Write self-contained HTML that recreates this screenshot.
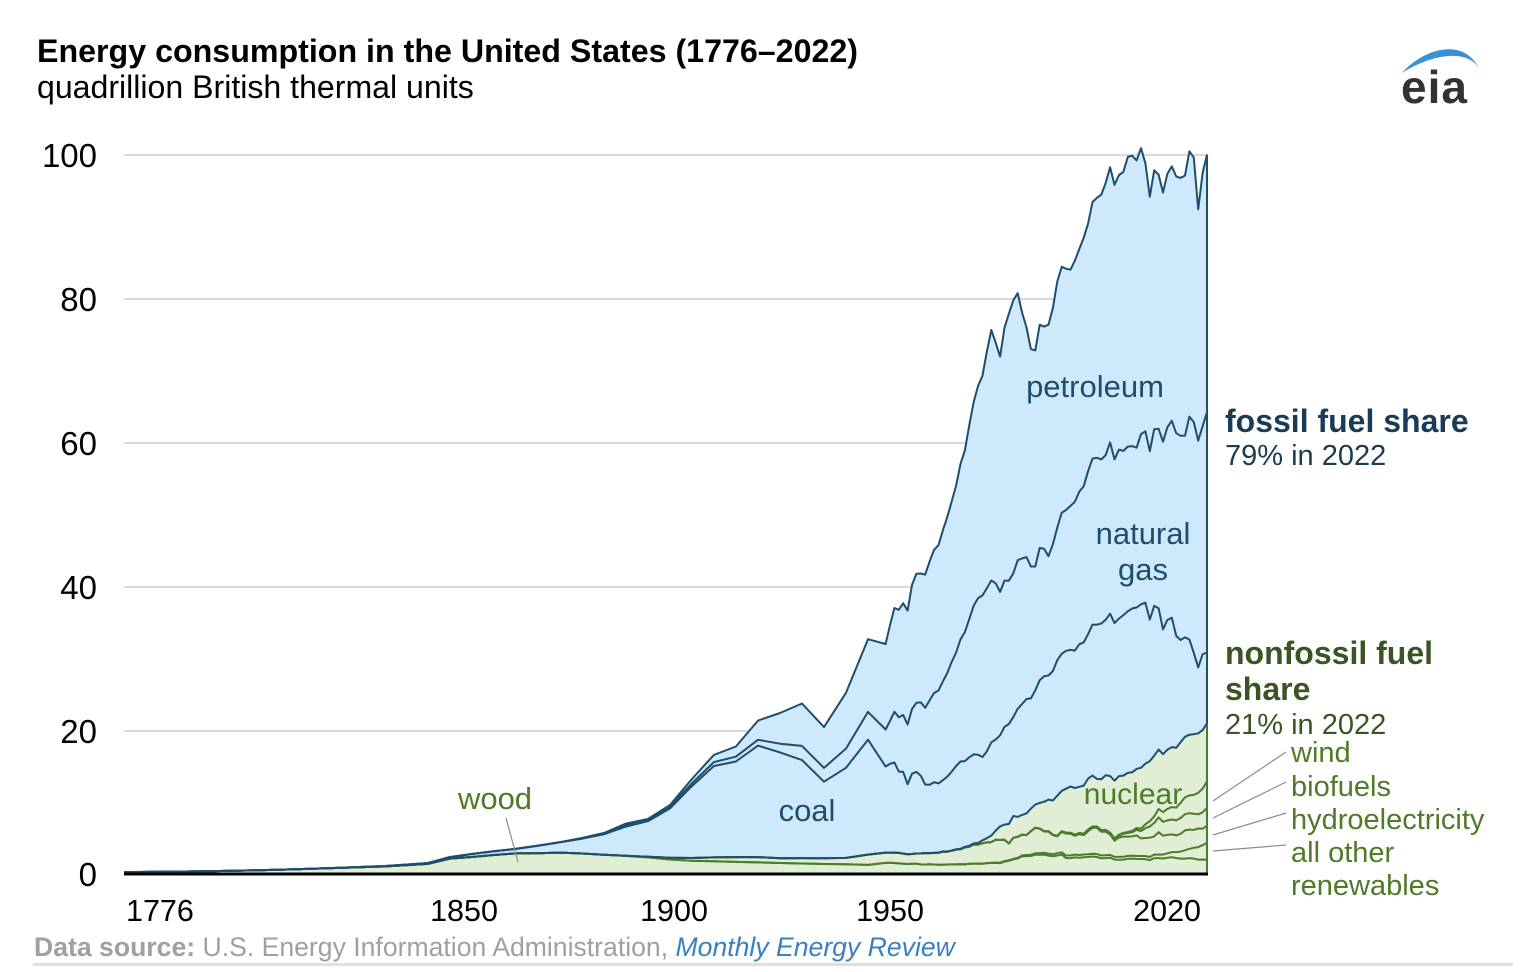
<!DOCTYPE html>
<html><head><meta charset="utf-8">
<style>
html,body{margin:0;padding:0;background:#fff;}
svg{display:block;font-family:"Liberation Sans",Arial,sans-serif;}
</style></head>
<body>
<svg id="chart" width="1536" height="972" viewBox="0 0 1536 972" xmlns="http://www.w3.org/2000/svg">
<rect width="1536" height="972" fill="#fff"/>
<!-- gridlines -->
<g stroke="#d9d9d9" stroke-width="2">
<line x1="124" y1="155" x2="1207" y2="155"/>
<line x1="124" y1="299" x2="1207" y2="299"/>
<line x1="124" y1="443" x2="1207" y2="443"/>
<line x1="124" y1="587" x2="1207" y2="587"/>
<line x1="124" y1="731" x2="1207" y2="731"/>
</g>
<path id="blueFill" fill="#cde9fb" stroke="none"/>
<path id="greenFill" fill="#e0eed5" stroke="none"/>
<g fill="none" stroke="#4e7a2b" stroke-width="2" stroke-linejoin="round">
<path id="g1"/><path id="g2"/><path id="g3"/><path id="g4"/><path id="g5"/>
<path id="gEdge"/>
</g>
<g fill="none" stroke="#1f4d6d" stroke-width="2" stroke-linejoin="round">
<path id="n6"/><path id="n7"/><path id="n8"/><path id="n9"/>
<path id="nEdge"/>
</g>
<line x1="124" y1="874" x2="1208" y2="874" stroke="#000" stroke-width="3"/>

<!-- title -->
<text x="37" y="62" font-size="32.2" font-weight="bold" fill="#000">Energy consumption in the United States (1776–2022)</text>
<text x="37" y="98" font-size="32.1" fill="#000">quadrillion British thermal units</text>

<!-- eia logo -->
<path d="M1402,73 C1422,50 1462,36 1479,68 C1466,48 1430,55 1402,73 Z" fill="#3a8fd6"/>
<text x="1401" y="103" font-size="46" font-weight="bold" fill="#333" letter-spacing="1">eia</text>

<!-- y labels -->
<g font-size="33" fill="#000" text-anchor="end">
<text x="97" y="167">100</text>
<text x="97" y="311">80</text>
<text x="97" y="455">60</text>
<text x="97" y="599">40</text>
<text x="97" y="743">20</text>
<text x="97" y="886">0</text>
</g>
<!-- x labels -->
<g font-size="30.5" fill="#000">
<text x="126" y="921">1776</text>
<text x="464" y="921" text-anchor="middle">1850</text>
<text x="674" y="921" text-anchor="middle">1900</text>
<text x="890" y="921" text-anchor="middle">1950</text>
<text x="1201" y="921" text-anchor="end">2020</text>
</g>

<!-- series labels -->
<g font-size="31" fill="#1f4d6d">
<text x="1095" y="397" text-anchor="middle">petroleum</text>
<text x="1143" y="544" text-anchor="middle">natural</text>
<text x="1143" y="580" text-anchor="middle">gas</text>
<text x="807" y="821" text-anchor="middle">coal</text>
</g>
<g fill="#4f7a28">
<text x="495" y="809" text-anchor="middle" font-size="31">wood</text>
<text x="1133" y="804" text-anchor="middle" font-size="30">nuclear</text>
</g>
<line x1="506" y1="818" x2="518" y2="862" stroke="#8c8c8c" stroke-width="1.2"/>

<!-- right annotations -->
<text x="1225" y="432" font-size="32" font-weight="bold" fill="#1b3a55">fossil fuel share</text>
<text x="1225" y="465" font-size="29" fill="#1b3a55">79% in 2022</text>
<text x="1225" y="664" font-size="32" font-weight="bold" fill="#3a5423">nonfossil fuel</text>
<text x="1225" y="700" font-size="32" font-weight="bold" fill="#3a5423">share</text>
<text x="1225" y="734" font-size="29" fill="#3a5423">21% in 2022</text>
<g font-size="29" fill="#4f7a28">
<text x="1291" y="762">wind</text>
<text x="1291" y="796">biofuels</text>
<text x="1291" y="829">hydroelectricity</text>
<text x="1291" y="862">all other</text>
<text x="1291" y="895">renewables</text>
</g>
<g stroke="#8c8c8c" stroke-width="1.2">
<line x1="1213" y1="801" x2="1286" y2="752"/>
<line x1="1213" y1="818" x2="1286" y2="782"/>
<line x1="1213" y1="835" x2="1286" y2="813"/>
<line x1="1213" y1="851" x2="1286" y2="845"/>
</g>

<!-- footer -->
<text x="34" y="956" font-size="26.6" fill="#a0a0a0"><tspan font-weight="bold">Data source:</tspan> U.S. Energy Information Administration, <tspan font-style="italic" fill="#3b7fc0">Monthly Energy Review</tspan></text>
<rect x="33" y="963" width="1480" height="3" fill="#e0e0e0"/>
</svg>
<script>
const R=[
[1776,.25,0,0,0,0,0,0,0,0],
[1785,.30,0,0,0,0,0,0,0,0],
[1795,.38,0,0,0,0,0,0,0,0],
[1805,.50,0,0,0,0,0,0,0,0],
[1815,.65,0,0,0,0,0,.01,0,0],
[1825,.85,0,0,0,0,0,.01,0,0],
[1835,1.05,0,0,0,0,0,.05,0,0],
[1845,1.40,0,0,0,0,0,.12,0,0],
[1850,2.138,0,0,0,0,0,.219,0,0],
[1855,2.358,0,0,0,0,0,.421,0,0],
[1860,2.641,0,0,0,0,0,.518,0,.003],
[1865,2.863,0,0,0,0,0,.632,0,.006],
[1870,2.893,0,0,0,0,0,1.048,0,.011],
[1875,2.975,0,0,0,0,0,1.440,0,.011],
[1880,2.851,0,0,0,0,0,2.054,0,.096],
[1885,2.683,0,0,0,0,0,2.840,.143,.040],
[1890,2.515,0,.022,0,0,0,4.062,.257,.156],
[1895,2.306,0,.085,0,0,0,4.950,.147,.168],
[1900,2.015,0,.250,0,0,0,6.841,.252,.229],
[1905,1.843,0,.386,0,0,0,10.001,.372,.610],
[1910,1.765,0,.539,0,0,0,12.714,.540,1.007],
[1915,1.688,0,.659,0,0,0,13.294,.673,1.418],
[1920,1.610,0,.738,0,0,0,15.504,.813,2.676],
[1925,1.533,0,.668,0,0,0,14.706,1.212,4.280],
[1930,1.455,0,.752,0,0,0,13.639,1.969,5.897],
[1935,1.397,0,.805,0,0,0,10.634,1.919,5.675],
[1940,1.358,0,.880,0,0,0,12.535,2.665,7.760],
[1945,1.261,0,1.442,0,0,0,15.972,3.871,10.110],
[1949,1.549,0,1.425,0,0,0,11.981,5.145,11.883],
[1950,1.562,0,1.415,0,0,0,12.347,5.968,13.315],
[1951,1.535,0,1.424,0,0,0,12.553,7.049,14.428],
[1952,1.474,0,1.466,0,0,0,11.306,7.550,14.956],
[1953,1.419,0,1.413,0,0,0,11.373,7.907,15.556],
[1954,1.394,0,1.360,0,0,0,9.715,8.330,15.839],
[1955,1.424,0,1.360,0,0,0,11.167,8.998,17.255],
[1956,1.416,0,1.435,0,0,0,11.350,9.614,17.937],
[1957,1.334,0,1.516,0,0,0,10.821,10.191,17.932],
[1958,1.323,0,1.592,0,0,.002,9.533,10.663,18.527],
[1959,1.353,0,1.548,0,0,.002,9.518,11.717,19.323],
[1960,1.320,.001,1.608,0,0,.006,9.838,12.385,19.919],
[1961,1.295,.002,1.656,0,0,.02,9.623,12.926,20.216],
[1962,1.300,.002,1.816,0,0,.026,9.906,13.731,21.049],
[1963,1.323,.004,1.771,0,0,.038,10.413,14.403,21.701],
[1964,1.337,.005,1.886,0,0,.04,10.964,15.288,22.301],
[1965,1.335,.004,2.059,0,0,.043,11.581,15.769,23.246],
[1966,1.369,.004,2.062,0,0,.064,12.143,16.995,24.401],
[1967,1.340,.007,2.347,0,0,.088,11.914,17.945,25.284],
[1968,1.419,.009,2.349,0,0,.142,12.331,19.210,26.979],
[1969,1.440,.013,2.648,0,0,.154,12.382,20.678,28.338],
[1970,1.429,.011,2.634,0,0,.239,12.265,21.795,29.521],
[1971,1.432,.012,2.824,0,0,.413,11.598,22.469,30.561],
[1972,1.503,.031,2.864,0,0,.584,12.077,22.698,32.947],
[1973,1.527,.043,2.861,0,0,.910,12.971,22.512,34.840],
[1974,1.538,.053,3.177,0,0,1.272,12.663,21.732,33.455],
[1975,1.497,.070,3.155,0,0,1.900,12.663,19.948,32.731],
[1976,1.711,.078,2.976,0,0,2.111,13.584,20.345,35.175],
[1977,1.837,.077,2.333,0,0,2.702,13.922,19.931,37.122],
[1978,2.036,.064,2.937,0,0,3.024,13.766,20.000,37.965],
[1979,2.152,.084,2.931,0,0,2.776,15.040,20.666,37.123],
[1980,2.476,.110,2.900,0,0,2.739,15.423,20.235,34.202],
[1981,2.496,.15,2.758,.013,0,3.008,15.908,19.747,31.931],
[1982,2.510,.17,3.266,.019,0,3.131,15.322,18.356,30.232],
[1983,2.684,.2,3.527,.035,0,3.203,15.894,17.221,30.054],
[1984,2.686,.22,3.386,.043,0,3.553,17.071,18.394,31.051],
[1985,2.687,.25,2.970,.052,0,4.076,17.478,17.703,30.922],
[1986,2.562,.27,3.071,.064,0,4.380,17.260,16.591,32.196],
[1987,2.463,.3,2.635,.071,0,4.754,18.008,17.640,32.865],
[1988,2.577,.32,2.334,.076,0,5.587,18.846,18.448,34.222],
[1989,2.680,.34,2.837,.082,.02,5.602,19.070,19.602,34.211],
[1990,2.216,.36,3.046,.11,.029,6.104,19.173,19.603,33.552],
[1991,2.214,.37,3.016,.12,.031,6.422,18.992,20.033,32.846],
[1992,2.313,.38,2.617,.13,.03,6.479,19.122,20.713,33.525],
[1993,2.260,.38,2.892,.15,.031,6.410,19.835,21.229,33.744],
[1994,2.324,.39,2.683,.17,.036,6.694,19.909,21.728,34.561],
[1995,2.370,.38,3.205,.2,.033,7.075,20.089,22.671,34.438],
[1996,2.437,.39,3.590,.15,.033,7.087,21.002,23.085,35.675],
[1997,2.371,.4,3.640,.18,.034,6.597,21.445,23.223,36.159],
[1998,2.184,.4,3.297,.2,.031,7.068,21.656,22.830,36.816],
[1999,2.214,.4,3.268,.21,.046,7.610,21.622,22.909,37.838],
[2000,2.262,.4,2.811,.23,.057,7.862,22.580,23.824,38.262],
[2001,2.006,.38,2.242,.25,.07,8.029,21.914,22.773,38.186],
[2002,1.995,.38,2.689,.3,.105,8.145,21.904,23.510,38.189],
[2003,2.002,.39,2.825,.4,.115,7.959,22.321,22.831,38.809],
[2004,2.121,.39,2.690,.5,.142,8.222,22.466,22.909,40.294],
[2005,2.137,.39,2.703,.58,.178,8.161,22.795,22.565,40.388],
[2006,2.099,.4,2.869,.77,.264,8.215,22.447,22.224,39.955],
[2007,2.089,.41,2.446,1.02,.341,8.459,22.749,23.663,39.774],
[2008,2.059,.43,2.511,1.37,.546,8.426,22.385,23.843,37.281],
[2009,1.931,.45,2.669,1.57,.721,8.356,19.691,23.416,35.403],
[2010,2.216,.48,2.539,1.86,.923,8.434,20.834,24.575,36.010],
[2011,2.214,.5,3.103,2.05,1.168,8.269,19.658,24.955,35.360],
[2012,2.151,.55,2.629,1.93,1.34,8.062,17.378,26.089,34.659],
[2013,2.257,.62,2.562,2.01,1.6,8.244,18.039,26.805,35.249],
[2014,2.321,.72,2.467,2.07,1.73,8.338,17.998,27.383,35.389],
[2015,2.225,.82,2.321,2.09,1.78,8.337,15.549,28.191,35.706],
[2016,2.135,.98,2.472,2.20,2.1,8.427,14.226,28.400,35.877],
[2017,2.144,1.15,2.767,2.26,2.34,8.419,13.838,28.034,36.188],
[2018,2.210,1.3,2.663,2.28,2.48,8.438,13.241,31.000,36.904],
[2019,2.144,1.5,2.492,2.23,2.63,8.452,11.307,32.097,36.789],
[2020,1.990,1.75,2.59,1.97,3.0,8.251,9.182,31.540,32.180],
[2021,2.010,2.0,2.31,2.26,3.3,8.131,10.548,31.710,35.218],
[2022,2.0,2.35,2.34,2.5,3.7,8.05,9.87,33.41,35.84]
];
const X=y=>(124+(y-1776)*1083/246).toFixed(1);
const Y=v=>(874-v*7.19).toFixed(1);
const C=R.map(r=>{let s=0,a=[r[0],0];for(let i=1;i<10;i++){s+=r[i];a.push(s);}return a;});
function pts(k){return C.map(a=>X(a[0])+','+Y(a[k+1]));}
function line(k){return 'M'+pts(k).join('L');}
function set(id,d){document.getElementById(id).setAttribute('d',d);}
const last=C[C.length-1], xe=X(2022);
set('blueFill', line(9)+'L'+pts(6).reverse().join('L')+'Z');
set('greenFill', line(6)+'L'+xe+',874L'+X(1776)+',874Z');
for(let k=1;k<=5;k++) set('g'+k, line(k));
for(let k=6;k<=9;k++) set('n'+k, line(k));
set('nEdge','M'+xe+','+Y(last[10])+'L'+xe+','+Y(last[7]));
set('gEdge','M'+xe+','+Y(last[7])+'L'+xe+',874');
</script>
</body></html>
